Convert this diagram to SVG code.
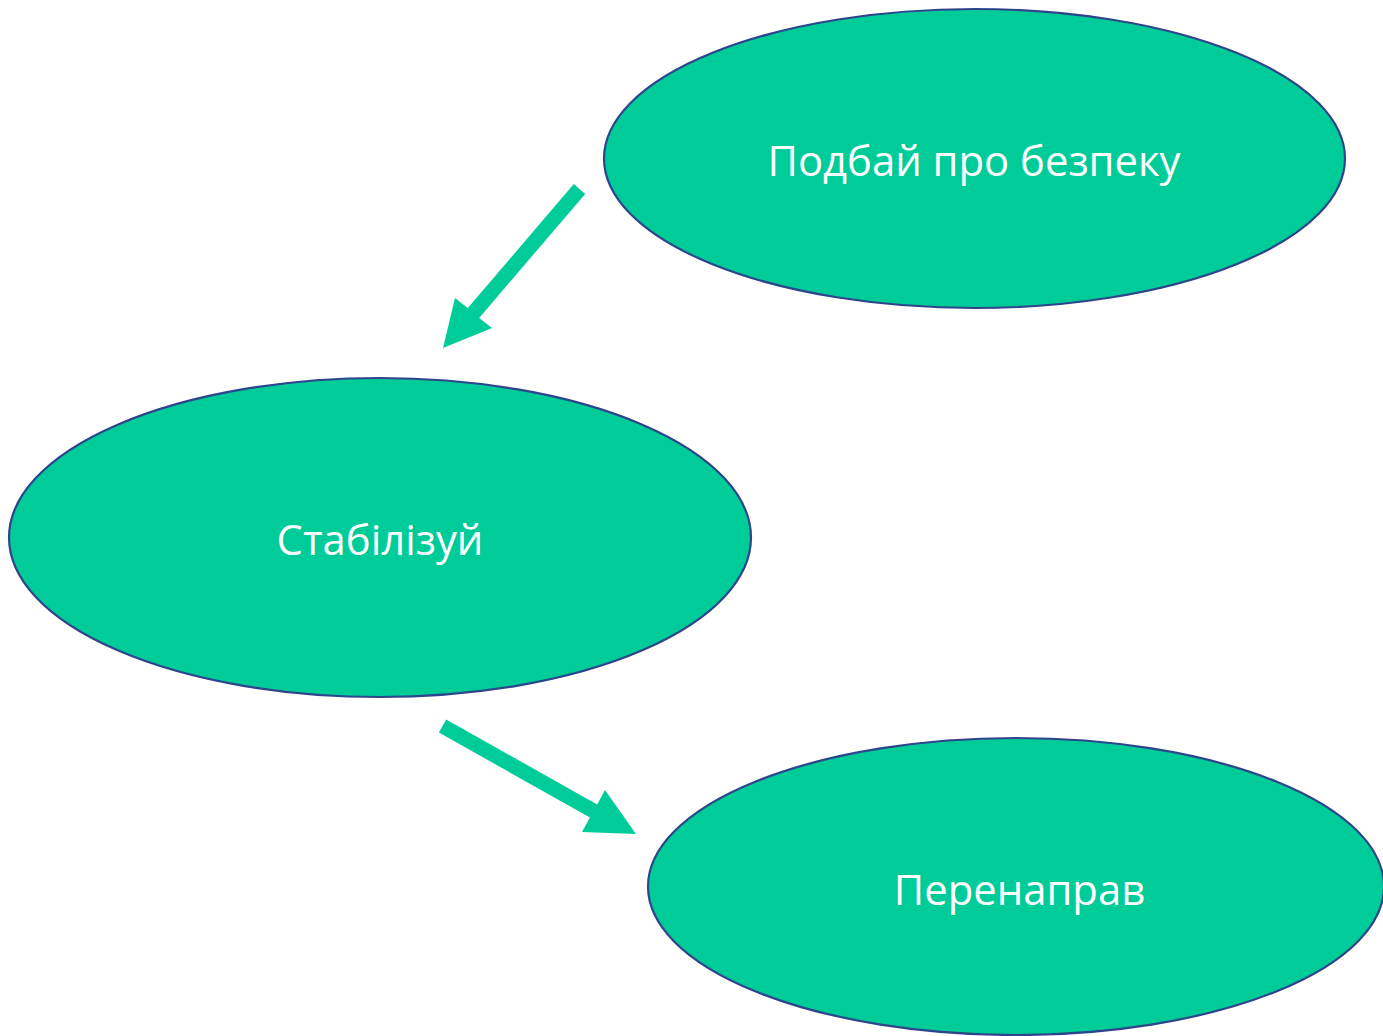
<svg xmlns="http://www.w3.org/2000/svg" width="1383" height="1036" viewBox="0 0 1383 1036">
<style>
.node{fill:#00CC99;stroke:#2D458A;stroke-width:2.2}
.lbl{fill:#FFFFFF;font-family:"Open Sans","Liberation Sans",sans-serif;font-size:41.8px;text-anchor:middle}
.arr{fill:#00CC99;stroke:none}
</style>
<rect width="1383" height="1036" fill="#FFFFFF"/>
<g id="node-safety">
<ellipse class="node" cx="974.5" cy="158.5" rx="370.5" ry="149.5"/>
<text class="lbl" x="974" y="176">Подбай про безпеку</text>
</g>
<g id="node-stabilize">
<ellipse class="node" cx="380" cy="537.5" rx="371" ry="159.5"/>
<text class="lbl" x="380" y="555">Стабілізуй</text>
</g>
<g id="node-redirect">
<ellipse class="node" cx="1016" cy="886.5" rx="368" ry="148.5"/>
<text class="lbl" x="1019.5" y="905">Перенаправ</text>
</g>
<g id="connectors">
<polygon class="arr" points="573.8,184.1 585.2,193.9 479.2,317.9 492,328 443,348 455,298 467.8,308.1"/>
<polygon class="arr" points="446.2,719.5 597.2,804.5 605,790 636,834 582,832 589.9,817.5 438.9,732.5"/>
</g>
</svg>
